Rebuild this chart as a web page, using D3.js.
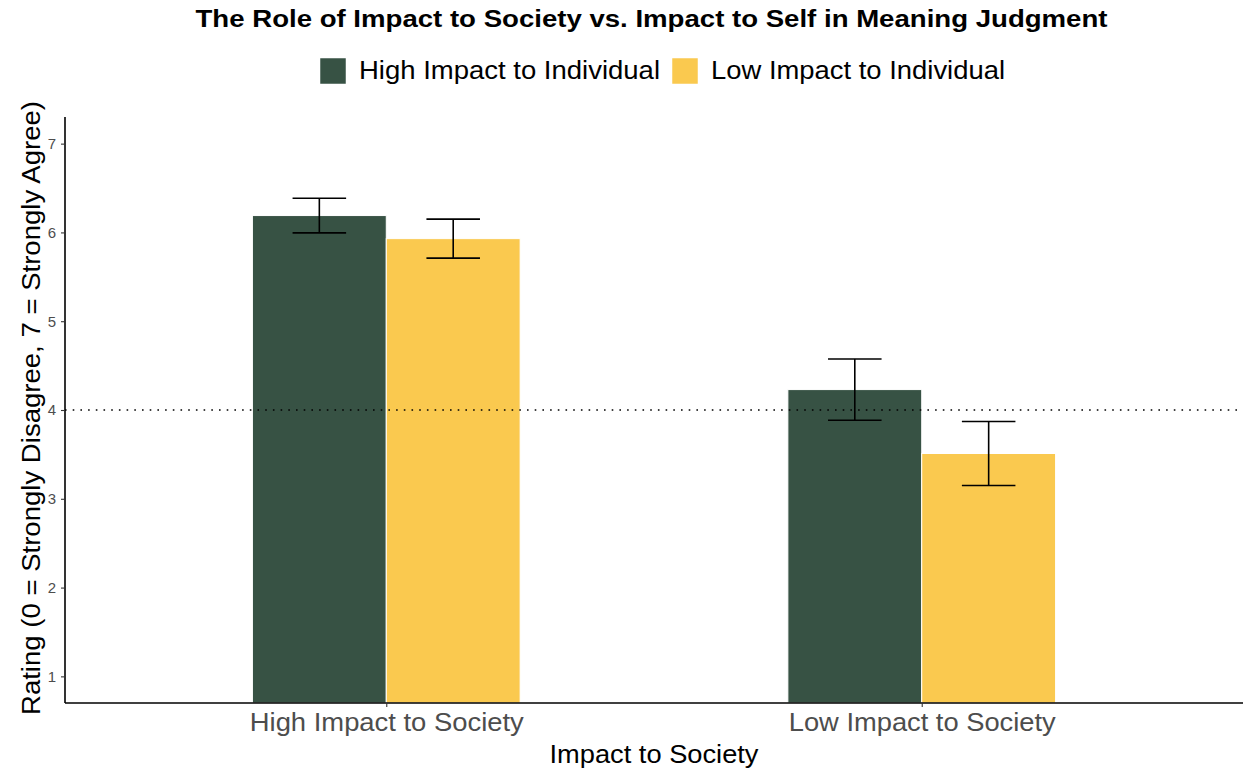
<!DOCTYPE html>
<html>
<head>
<meta charset="utf-8">
<script src="https://cdn.jsdelivr.net/npm/d3@7"></script>
<style>
  html, body { margin: 0; padding: 0; background: #fff; }
  svg text { font-family: "Liberation Sans", Arial, Helvetica, sans-serif; }
</style>
</head>
<body>
<svg id="chart" width="1243" height="769"></svg>
<script>
// Mean meaning-judgment ratings with standard errors
const societyLevels = ["High Impact to Society", "Low Impact to Society"];
const individualLevels = ["High Impact to Individual", "Low Impact to Individual"];
const highIndividualMeans = [6.19, 4.23];
const lowIndividualMeans = [5.93, 3.51];
const highIndividualErr = [0.195, 0.345];
const lowIndividualErr = [0.22, 0.36];
const yTicks = [1, 2, 3, 4, 5, 6, 7];
const referenceLine = 4;

const colors = { "High Impact to Individual": "#375244", "Low Impact to Individual": "#FAC94F" };

const rows = [];
societyLevels.forEach((s, i) => {
  rows.push({ society: s, individual: individualLevels[0], mean: highIndividualMeans[i], err: highIndividualErr[i] });
  rows.push({ society: s, individual: individualLevels[1], mean: lowIndividualMeans[i], err: lowIndividualErr[i] });
});

const svg = d3.select("#chart");
const panel = { left: 65, right: 1243, top: 117, bottom: 703 };

const x = d3.scalePoint().domain(societyLevels).range([panel.left, panel.right]).padding(0.6);
const step = x.step();
const dodge = d3.scaleBand().domain(individualLevels).range([-0.25 * step, 0.25 * step]);
const y = d3.scaleLinear().domain([0.7, 7.3]).range([panel.bottom, panel.top]);

// Stretch a text element to a given rendered width
function fitWidth(sel, w) {
  sel.attr("textLength", w).attr("lengthAdjust", "spacingAndGlyphs");
}

// Bars
svg.append("g").selectAll("rect").data(rows).join("rect")
  .attr("x", d => x(d.society) + dodge(d.individual))
  .attr("width", dodge.bandwidth())
  .attr("y", d => y(d.mean))
  .attr("height", d => y(0.7) - y(d.mean))
  .attr("fill", d => colors[d.individual])
  .attr("stroke", "#fff")
  .attr("stroke-width", 1);

// Reference line at the scale midpoint
svg.append("line")
  .attr("x1", panel.left).attr("x2", panel.right)
  .attr("y1", y(referenceLine)).attr("y2", y(referenceLine))
  .attr("stroke", "#000").attr("stroke-width", 1.6)
  .attr("stroke-dasharray", "1.6,6.1");

// Error bars
const capHalf = 0.05 * step;
const eb = svg.append("g").attr("stroke", "#000").attr("stroke-width", 1.6).attr("fill", "none");
rows.forEach(d => {
  const cx = x(d.society) + dodge(d.individual) + dodge.bandwidth() / 2;
  const yTop = y(d.mean + d.err), yBot = y(d.mean - d.err);
  eb.append("line").attr("x1", cx).attr("x2", cx).attr("y1", yTop).attr("y2", yBot);
  eb.append("line").attr("x1", cx - capHalf).attr("x2", cx + capHalf).attr("y1", yTop).attr("y2", yTop);
  eb.append("line").attr("x1", cx - capHalf).attr("x2", cx + capHalf).attr("y1", yBot).attr("y2", yBot);
});

// Axes
const yAxis = svg.append("g").attr("transform", `translate(${panel.left},0)`)
  .call(d3.axisLeft(y).tickValues(yTicks).tickSize(4).tickPadding(5).tickFormat(d3.format("d")));
yAxis.select(".domain").attr("d", `M0,${panel.top}V${panel.bottom}`).attr("stroke", "#000").attr("stroke-width", 1.6);
yAxis.selectAll(".tick line").attr("stroke", "#333").attr("stroke-width", 1.1);
yAxis.selectAll(".tick text").attr("fill", "#4d4d4d").style("font-size", "15px");

const xAxis = svg.append("g").attr("transform", `translate(0,${panel.bottom})`)
  .call(d3.axisBottom(x).tickSize(4).tickPadding(6));
xAxis.select(".domain").attr("d", `M${panel.left},0H${panel.right}`).attr("stroke", "#000").attr("stroke-width", 1.6);
xAxis.selectAll(".tick line").attr("stroke", "#333").attr("stroke-width", 1.1);
const tickWidths = { "High Impact to Society": 274, "Low Impact to Society": 267 };
xAxis.selectAll(".tick text")
  .attr("fill", "#4d4d4d").style("font-size", "25px")
  .attr("dy", null)
  .attr("y", 28)
  .each(function(d) { fitWidth(d3.select(this), tickWidths[d]); });

// Axis titles
svg.append("text")
  .attr("x", (panel.left + panel.right) / 2).attr("y", 763)
  .attr("text-anchor", "middle").style("font-size", "25px").attr("fill", "#000")
  .text("Impact to Society")
  .call(fitWidth, 209);
svg.append("text")
  .attr("transform", `translate(40,408) rotate(-90)`)
  .attr("text-anchor", "middle").style("font-size", "26px").attr("fill", "#000")
  .text("Rating (0 = Strongly Disagree, 7 = Strongly Agree)")
  .call(fitWidth, 614);

// Title
svg.append("text")
  .attr("x", 651.5).attr("y", 27)
  .attr("text-anchor", "middle").style("font-size", "23px").style("font-weight", "bold").attr("fill", "#000")
  .text("The Role of Impact to Society vs. Impact to Self in Meaning Judgment")
  .call(fitWidth, 912);

// Legend
const legend = svg.append("g");
const legendItems = [
  { label: individualLevels[0], x: 320, w: 301 },
  { label: individualLevels[1], x: 672, w: 294 }
];
legendItems.forEach(it => {
  legend.append("rect").attr("x", it.x).attr("y", 58).attr("width", 26).attr("height", 26)
    .attr("fill", colors[it.label]).attr("stroke", "#fff").attr("stroke-width", 0.5);
  legend.append("text").attr("x", it.x + 39).attr("y", 79)
    .style("font-size", "25.5px").attr("fill", "#000").text(it.label)
    .call(fitWidth, it.w);
});
</script>
</body>
</html>
